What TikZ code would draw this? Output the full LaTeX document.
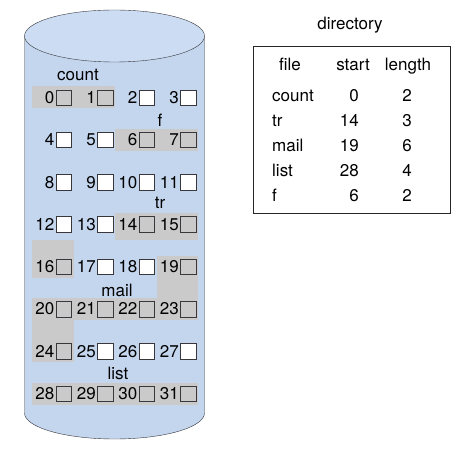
\documentclass[tikz,border=0pt]{standalone}
\usepackage{fontspec}
\setmainfont{TeX Gyre Heros}
\usetikzlibrary{positioning}
\definecolor{diskblue}{RGB}{196,214,238}
\definecolor{disktop}{RGB}{204,221,243}
\definecolor{usedgray}{RGB}{202,202,202}
\definecolor{edgegray}{RGB}{55,55,60}

\begin{document}
\begin{tikzpicture}[x=1pt, y=-1pt, font=\fontsize{17}{20}\selectfont,
        freeblk/.style={rectangle, draw=edgegray, fill=white, minimum size=15.5pt, inner sep=0pt},
        usedblk/.style={freeblk, fill=usedgray},
        blknum/.style={inner sep=1pt, text height=12pt, text depth=0pt},
        dirtext/.style={inner sep=0pt, text height=12pt, text depth=3.5pt}]

      \useasboundingbox (0,0) rectangle (474,454);

      % 1. Disk (cylinder)
      \draw[edgegray, fill=diskblue] (24.5,36) -- (24.5,413) arc[start angle=180, end angle=0, x radius=90, y radius=26] -- (204.5,36);
      \draw[edgegray, fill=disktop] (114.5,36) ellipse [x radius=90, y radius=26];

      % 2. Shaded runs of allocated blocks
      \fill[usedgray] (32,86.5) rectangle (115,108.5);     % count
      \fill[usedgray] (115,128.8) rectangle (198,150.8);   % f
      \fill[usedgray] (115,213.4) rectangle (198,240);     % tr
      \fill[usedgray] (32,240) rectangle (73.5,277.7);
      \fill[usedgray] (156.5,255.7) rectangle (198,298);   % mail
      \fill[usedgray] (32,298) rectangle (198,320);
      \fill[usedgray] (32,320) rectangle (73.5,362.3);
      \fill[usedgray] (32,382.6) rectangle (198,404.6);    % list

      % 3. Blocks 0..31
      \foreach \st/\lst in {freeblk/{2,3,4,5,8,9,10,11,12,13,17,18,25,26,27},
                            usedblk/{0,1,6,7,14,15,16,19,20,21,22,23,24,28,29,30,31}} {
        \foreach \i in \lst {
          \pgfmathsetmacro{\bx}{63.5+41.5*mod(\i,4)}
          \pgfmathsetmacro{\by}{97.5+42.3*div(\i,4)}
          \node[\st] (blk\i) at (\bx,\by) {};
          \node[blknum, left=0pt of blk\i] (num\i) {\i};
        }
      }

      % 4. File labels on the disk
      \node[dirtext] (lblcount) at (78,76) {count};
      \node[dirtext] (lblf) at (160,122) {f};
      \node[dirtext] (lbltr) at (160,204) {tr};
      \node[dirtext] (lblmail) at (117,292) {mail};
      \node[dirtext] (lbllist) at (118,375) {list};

      % 5. Directory table
      \node[dirtext] (dirtitle) at (350,25) {directory};
      \node[draw=black!85, line width=1pt, minimum width=197pt, minimum height=167pt] (dirbox) at (351.5,130.5) {};
      \node[dirtext] (hfile) at (290,66) {file};
      \node[dirtext] (hstart) at (353,66) {start};
      \node[dirtext] (hlength) at (408,66) {length};
      \foreach \fname/\fstart/\flen [count=\k from 0] in {count/0/2, tr/14/3, mail/19/6, list/28/4, f/6/2} {
        \node[dirtext, anchor=west] (fname\k) at (272,{97.5+25*\k}) {\fname};
        \node[dirtext, anchor=east] (fstart\k) at (359,{97.5+25*\k}) {\fstart};
        \node[dirtext] (flen\k) at (407,{97.5+25*\k}) {\flen};
      }
    \end{tikzpicture}
\end{document}
